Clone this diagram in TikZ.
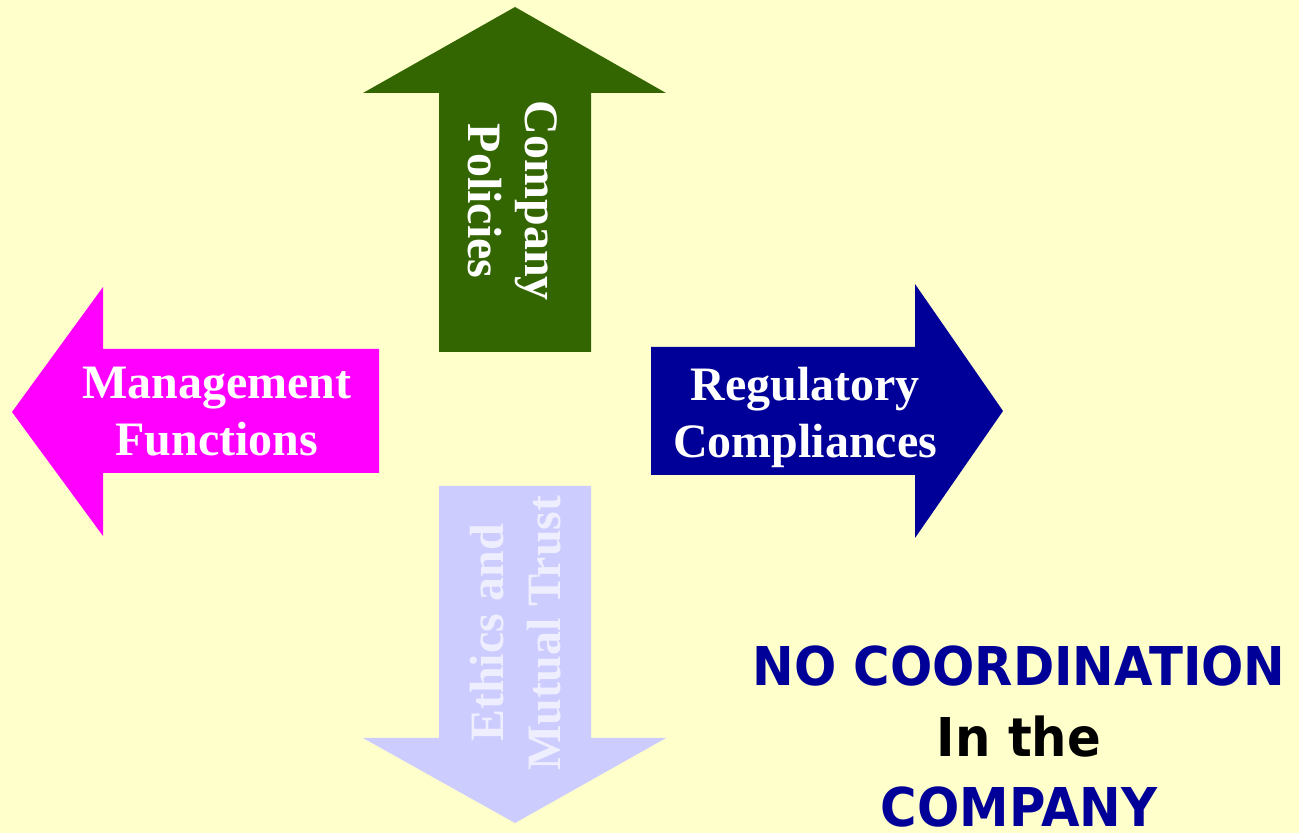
\documentclass[tikz,border=0pt]{standalone}
\usepackage{fontspec}
\setmainfont{Liberation Serif}
\newfontfamily\labelsans{DejaVu Sans}
\usepackage{graphicx}
\definecolor{paper}{HTML}{FFFFCC}
\definecolor{policygreen}{HTML}{336600}
\definecolor{mgmtpink}{HTML}{FF00FF}
\definecolor{regnavy}{HTML}{000099}
\definecolor{ethicslav}{HTML}{CCCCFF}
\definecolor{ethicstext}{HTML}{EEEEFF}
\begin{document}
\begin{tikzpicture}[x=1pt,y=1pt,
  arrowbody/.style={draw=none},
  armlabel/.style={text=white,font=\bfseries\fontsize{48}{57}\selectfont,align=center,inner sep=0pt},
  notelabel/.style={font=\labelsans\bfseries\fontsize{53.5}{64}\selectfont,anchor=base,inner sep=0pt}]
  \fill[paper] (0,0) rectangle (1299,833);
  \useasboundingbox (0,0) rectangle (1299,833);

  % upward arrow
  \fill[policygreen,arrowbody] (439,481) -- (439,740) -- (363,740) -- (515,826)
    -- (666,740) -- (591,740) -- (591,481) -- cycle;
  % downward arrow
  \fill[ethicslav,arrowbody] (439,347) -- (439,95) -- (363,95) -- (515,10)
    -- (666,95) -- (591,95) -- (591,347) -- cycle;
  % leftward arrow
  \fill[mgmtpink,arrowbody] (379,484) -- (103,484) -- (103,546) -- (12,421)
    -- (103,297) -- (103,360) -- (379,360) -- cycle;
  % rightward arrow
  \fill[regnavy,arrowbody] (651,486) -- (915,486) -- (915,549) -- (1003,422)
    -- (915,295) -- (915,358) -- (651,358) -- cycle;

  \node[armlabel,rotate=-90] (policies) at (512.5,632) {Company\\Policies};
  \node[armlabel,text=ethicstext,rotate=90] (ethics) at (515.5,200) {Ethics and\\Mutual Trust};
  \node[armlabel] (management) at (217,421) {Management\\Functions};
  \node[armlabel] (regulatory) at (805,416) {Regulatory\\Compliances};

  \node[notelabel,text=regnavy] (nocoord) at (1019,147) {\scalebox{0.93}[1]{NO COORDINATION}};
  \node[notelabel,text=black] (inthe) at (1019,76) {\scalebox{0.93}[1]{In the}};
  \node[notelabel,text=regnavy] (company) at (1019,6) {\scalebox{0.93}[1]{COMPANY}};
\end{tikzpicture}
\end{document}
